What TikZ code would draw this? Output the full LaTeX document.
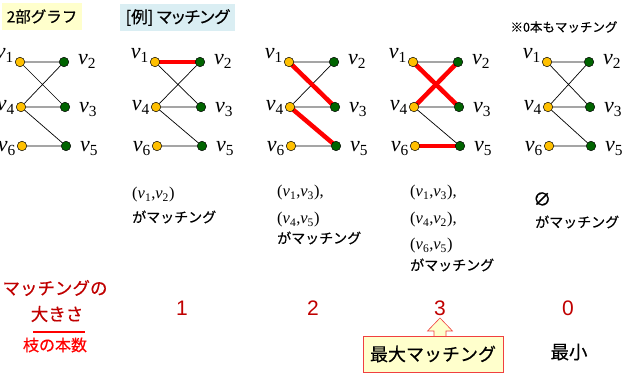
\documentclass[tikz,border=0pt]{standalone}
\usepackage{fontspec}
\setmainfont{Liberation Serif}
\newfontfamily\jp[RawFeature=+palt,FakeBold=0.4]{Noto Sans CJK JP}
\newfontfamily\jpn[FakeBold=0.4]{Noto Sans CJK JP}
\newfontfamily\lsans{Liberation Sans}
\pgfdeclarelayer{bg}
\pgfsetlayers{bg,main}
\definecolor{vyel}{HTML}{FFC000}
\definecolor{vgrn}{HTML}{006400}
\definecolor{dred}{HTML}{C00000}
\definecolor{paleyel}{HTML}{FFFFCC}
\definecolor{paleblue}{HTML}{DAEEF3}
\definecolor{boxred}{HTML}{F04040}
\newcommand\vsub[1]{\textit{v}\textsubscript{#1}}
\newcommand\fs[1]{\fontsize{#1}{#1}\selectfont}
\tikzset{
  ynode/.style={circle,draw=black,line width=0.5pt,fill=vyel,minimum size=9.5pt,inner sep=0pt},
  gnode/.style={ynode,fill=vgrn},
  lab/.style={inner sep=0pt,font=\fs{22}},
  bedge/.style={line width=0.7pt,black},
  redge/.style={line width=4.5pt,red},
  jtext/.style={inner sep=0pt,font=\jpn\fs{14}},
  mtext/.style={inner sep=0pt,font=\fs{16.5}},
  redtext/.style={inner sep=0pt,font=\jpn\fs{17.5},text=dred},
  numtext/.style={inner sep=0pt,font=\lsans\fs{21},text=dred},
  titlebox/.style={inner sep=0pt,minimum height=27pt}
}
\newcommand\bipg[3]{%
  \node[ynode] (#1v1) at (#2,62) {};
  \node[ynode] (#1v4) at (#2+1,107) {};
  \node[ynode] (#1v6) at (#2+2,146) {};
  \node[gnode] (#1v2) at (#3,62) {};
  \node[gnode] (#1v3) at (#3+1,107) {};
  \node[gnode] (#1v5) at (#3+2,146) {};
  \node[lab,anchor=base east] (#1l1) at ([shift={(-6,-3)}]#1v1.center) {\vsub1};
  \node[lab,anchor=base east] (#1l4) at ([shift={(-6,4)}]#1v4.center) {\vsub4};
  \node[lab,anchor=base east] (#1l6) at ([shift={(-6,6)}]#1v6.center) {\vsub6};
  \node[lab,anchor=base west] (#1l2) at ([shift={(14,3)}]#1v2.center) {\vsub2};
  \node[lab,anchor=base west] (#1l3) at ([shift={(14,6)}]#1v3.center) {\vsub3};
  \node[lab,anchor=base west] (#1l5) at ([shift={(14,6)}]#1v5.center) {\vsub5};
  \begin{pgfonlayer}{bg}
    \draw[bedge] (#1v1) -- (#1v2) (#1v1) -- (#1v3) (#1v4) -- (#1v2)
      (#1v4) -- (#1v3) (#1v4) -- (#1v5) (#1v6) -- (#1v5);
  \end{pgfonlayer}
}
\begin{document}
\begin{tikzpicture}[x=1pt,y=-1pt]
\useasboundingbox (0,0) rectangle (630,374);
% titles
\node[titlebox,fill=paleyel,minimum width=80pt,font=\jpn\fs{15.5}] (t1) at (42,16.5) {2部グラフ};
\node[titlebox,fill=paleblue,minimum width=115pt,font=\jp\fs{16.5}] (t2) at (177.5,17.5) {[例] マッチング};
\node[inner sep=0pt,font=\jpn\fs{12.5}] (note) at (564,27) {※0本もマッチング};
% graphs
\bipg{a}{20}{64}
\bipg{b}{155}{200}
\bipg{c}{289}{334}
\bipg{d}{413}{458}
\bipg{e}{547}{589}
\begin{pgfonlayer}{bg}
  \draw[redge] (bv1.center) -- (bv2.center);
  \draw[redge] (cv1.center) -- (cv3.center);
  \draw[redge] (cv4.center) -- (cv5.center);
  \draw[redge] (dv1.center) -- (dv3.center);
  \draw[redge] (dv4.center) -- (dv2.center);
  \draw[redge] (dv6.center) -- (dv5.center);
\end{pgfonlayer}
% matching texts
\node[mtext,anchor=west] (b1) at (132,195) {(\vsub1,\vsub2)};
\node[jtext,anchor=west] (b2) at (132,217) {がマッチング};
\node[mtext,anchor=west] (c1) at (277,193) {(\vsub1,\vsub3),};
\node[mtext,anchor=west] (c2) at (277,220) {(\vsub4,\vsub5)};
\node[jtext,anchor=west] (c3) at (277,238) {がマッチング};
\node[mtext,anchor=west] (d1) at (410,193) {(\vsub1,\vsub3),};
\node[mtext,anchor=west] (d2) at (410,220) {(\vsub4,\vsub2),};
\node[mtext,anchor=west] (d3) at (410,246) {(\vsub6,\vsub5)};
\node[jtext,anchor=west] (d4) at (410,265) {がマッチング};
\node[inner sep=0pt,anchor=west,font=\jpn\fs{18}] (e1) at (533,199) {∅};
\node[jtext,anchor=west] (e2) at (535,222) {がマッチング};
% size row
\node[redtext] (s1) at (55,288) {マッチングの};
\node[redtext] (s2) at (57,314) {大きさ};
\draw[red,line width=2.5pt] (33,332) -- (85,332);
\node[inner sep=0pt,font=\jpn\fs{16},text=red] (s3) at (55,345) {枝の本数};
\node[numtext] (n1) at (182,308) {1};
\node[numtext] (n2) at (313,308) {2};
\node[numtext] (n3) at (440,308) {3};
\node[numtext] (n0) at (568,308) {0};
% maximum matching callout
\draw[boxred,fill=paleyel,line width=0.6pt] (440,318) -- (452.5,331) -- (446,331) -- (446,337)
  -- (434,337) -- (434,331) -- (427.5,331) -- cycle;
\node[draw=boxred,fill=paleyel,line width=0.6pt,minimum width=140pt,minimum height=36pt,inner sep=0pt,font=\jpn\fs{18}] (mx) at (433,354) {最大マッチング};
\node[inner sep=0pt,font=\jpn\fs{18.5}] (mn) at (569,352) {最小};
\end{tikzpicture}
\end{document}
